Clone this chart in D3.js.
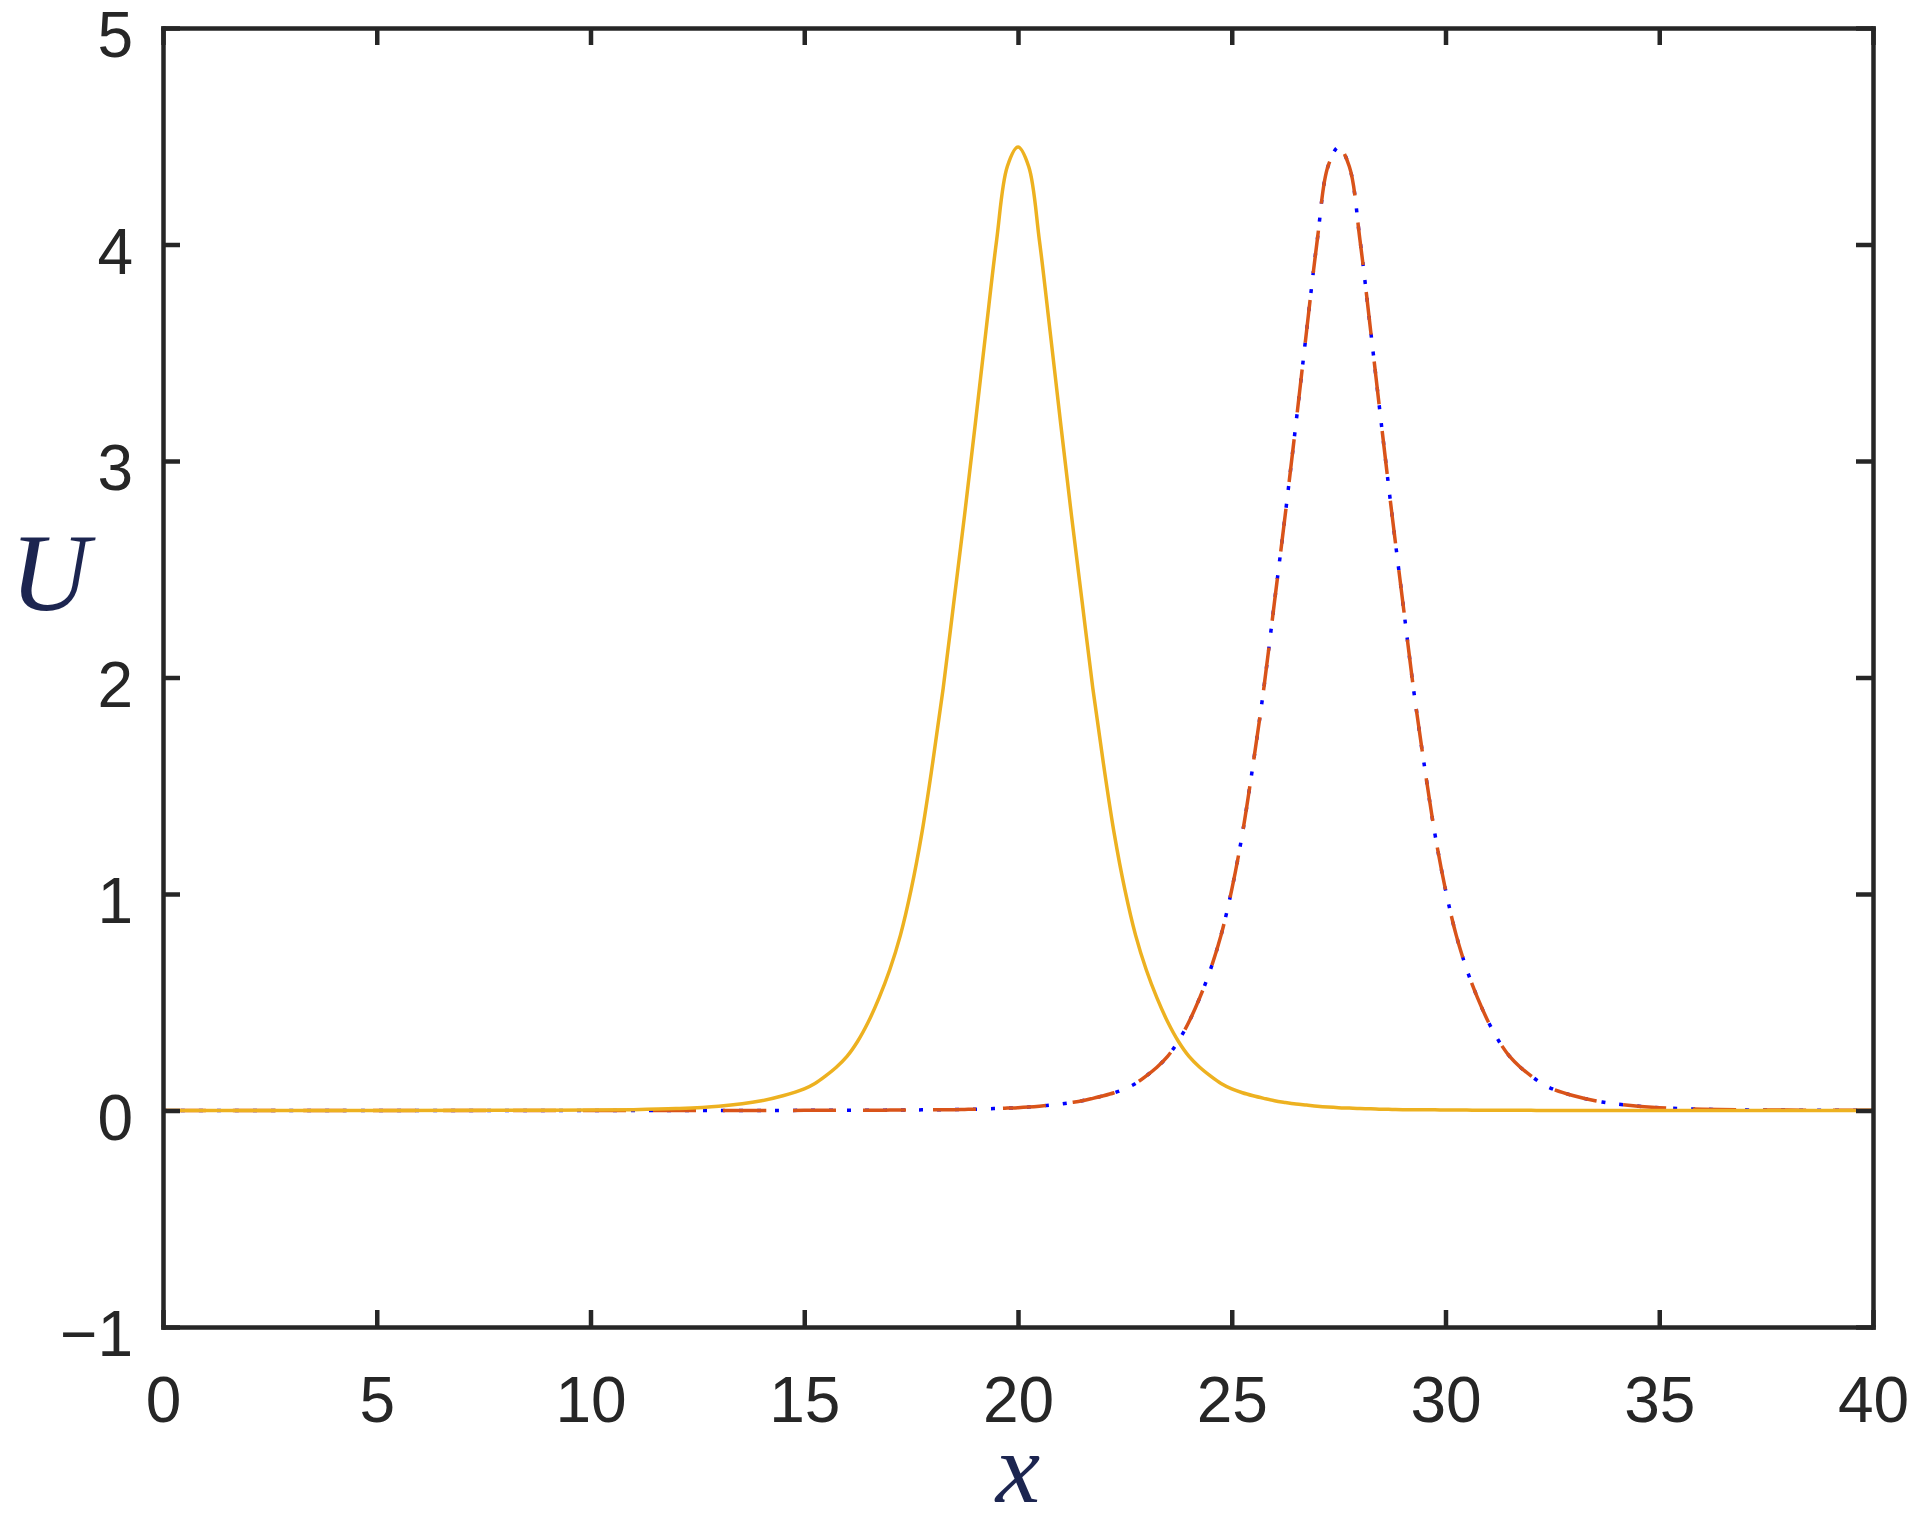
<!DOCTYPE html>
<html>
<head>
<meta charset="utf-8">
<script src="https://cdn.jsdelivr.net/npm/d3@7"></script>
<style>
  body { margin: 0; background: #fff; }
  svg { display: block; }
  .tick text { font-family: "Liberation Sans", Arial, sans-serif; font-size: 64px; fill: #262626; }
  .label { font-family: "Liberation Serif", "Times New Roman", serif; font-style: italic; fill: #1c2550; }
</style>
</head>
<body>
<div id="chart"></div>
<script>
// x grid shared by all curves (quarter steps where the pulses are)
var xs = [0, 4, 8, 9, 10, 11, 12, 13, 14, 14.5,
  15, 15.25, 15.5, 15.75, 16, 16.25, 16.5, 16.75, 17, 17.25, 17.5, 17.75,
  18, 18.25, 18.5, 18.75, 19, 19.25, 19.5, 19.75,
  20, 20.25, 20.5, 20.75, 21, 21.25, 21.5, 21.75, 22, 22.25, 22.5, 22.75,
  23, 23.25, 23.5, 23.75, 24, 24.25, 24.5, 24.75, 25, 25.25, 25.5, 25.75,
  26, 26.25, 26.5, 26.75, 27, 27.25, 27.5, 27.75, 28, 28.25, 28.5, 28.75,
  29, 29.25, 29.5, 29.75, 30, 30.25, 30.5, 30.75, 31, 31.25, 31.5, 31.75,
  32, 32.25, 32.5, 33, 33.5, 34, 35, 36, 37, 38, 39, 40];

// solid yellow curve, peak at x = 20
var uStart = [0, 0, 0.001, 0.001, 0.002, 0.004, 0.009, 0.02, 0.045, 0.068,
  0.10, 0.125, 0.16, 0.2, 0.25, 0.32, 0.41, 0.52, 0.65, 0.81, 1.02, 1.28,
  1.6, 1.95, 2.35, 2.75, 3.17, 3.6, 4.02, 4.36,
  4.45, 4.36, 4.02, 3.6, 3.17, 2.75, 2.35, 1.95, 1.6, 1.28, 1.02, 0.81,
  0.65, 0.52, 0.41, 0.32, 0.25, 0.2, 0.16, 0.125, 0.10, 0.082, 0.068, 0.056,
  0.045, 0.037, 0.03, 0.025, 0.02, 0.016, 0.013, 0.011, 0.009, 0.008, 0.006, 0.005,
  0.004, 0.004, 0.003, 0.003, 0.002, 0.002, 0.002, 0.001, 0.001, 0.001, 0.001, 0.001,
  0.001, 0, 0, 0, 0, 0, 0, 0, 0, 0, 0, 0];

// dashed red curve, peak at x = 27.5
var uNumeric = [0, 0, 0, 0, 0, 0, 0, 0, 0, 0,
  0.001, 0.001, 0.001, 0.001, 0.001, 0.001, 0.001, 0.001, 0.002, 0.002, 0.002, 0.003,
  0.003, 0.004, 0.004, 0.005, 0.006, 0.008, 0.009, 0.011,
  0.013, 0.016, 0.02, 0.025, 0.03, 0.037, 0.045, 0.056, 0.068, 0.082, 0.10, 0.125,
  0.16, 0.2, 0.25, 0.32, 0.41, 0.52, 0.65, 0.81, 1.02, 1.28, 1.6, 1.95,
  2.35, 2.75, 3.17, 3.6, 4.02, 4.36, 4.45, 4.36, 4.02, 3.6, 3.17, 2.75,
  2.35, 1.95, 1.6, 1.28, 1.02, 0.81, 0.65, 0.52, 0.41, 0.32, 0.25, 0.2,
  0.16, 0.125, 0.10, 0.068, 0.045, 0.03, 0.013, 0.006, 0.003, 0.002, 0.001, 0.001];

// dotted blue curve, lies on top of the red one
var uExact = [0, 0, 0, 0, 0, 0, 0, 0, 0, 0,
  0.001, 0.001, 0.001, 0.001, 0.001, 0.001, 0.001, 0.001, 0.002, 0.002, 0.002, 0.003,
  0.003, 0.004, 0.004, 0.005, 0.006, 0.008, 0.009, 0.011,
  0.013, 0.016, 0.02, 0.025, 0.03, 0.037, 0.045, 0.056, 0.068, 0.082, 0.10, 0.125,
  0.16, 0.2, 0.25, 0.32, 0.41, 0.52, 0.65, 0.81, 1.02, 1.28, 1.6, 1.95,
  2.35, 2.75, 3.17, 3.6, 4.02, 4.36, 4.45, 4.36, 4.02, 3.6, 3.17, 2.75,
  2.35, 1.95, 1.6, 1.28, 1.02, 0.81, 0.65, 0.52, 0.41, 0.32, 0.25, 0.2,
  0.16, 0.125, 0.10, 0.068, 0.045, 0.03, 0.013, 0.006, 0.003, 0.002, 0.001, 0.001];

var xTicks = [0, 5, 10, 15, 20, 25, 30, 35, 40];
var yTicks = [-1, 0, 1, 2, 3, 4, 5];

var width = 1922,
    height = 1526,
    margin = { top: 28, right: 49, bottom: 199, left: 163 };

var svg = d3.select("#chart").append("svg")
    .attr("width", width)
    .attr("height", height);

var x = d3.scaleLinear().domain([0, 40]).range([margin.left, width - margin.right]);
var y = d3.scaleLinear().domain([-1, 5]).range([height - margin.bottom, margin.top]);

var line = function(values) {
    return d3.line()
        .x(function(d, i) { return x(xs[i]); })
        .y(function(d) { return y(d); })
        .curve(d3.curveCatmullRom.alpha(0.5))(values);
};

// curves: blue dots first, red dashes over them, yellow on top
svg.append("path")
    .attr("d", line(uExact))
    .attr("fill", "none")
    .attr("stroke", "#0000ff")
    .attr("stroke-width", 3.5)
    .attr("stroke-dasharray", "4,14");

svg.append("path")
    .attr("d", line(uNumeric))
    .attr("fill", "none")
    .attr("stroke", "#d95319")
    .attr("stroke-width", 3.5)
    .attr("stroke-dasharray", "43,27");

svg.append("path")
    .attr("d", line(uStart))
    .attr("fill", "none")
    .attr("stroke", "#edb120")
    .attr("stroke-width", 3.5);

// box axes with inward ticks
var tickLen = 17;
var xBottom = svg.append("g")
    .attr("transform", "translate(0," + y(-1) + ")")
    .call(d3.axisBottom(x).tickValues(xTicks).tickSize(-tickLen).tickSizeOuter(0).tickPadding(50));
var xTop = svg.append("g")
    .attr("transform", "translate(0," + y(5) + ")")
    .call(d3.axisTop(x).tickValues(xTicks).tickSize(-tickLen).tickSizeOuter(0).tickFormat(""));
var yLeft = svg.append("g")
    .attr("transform", "translate(" + x(0) + ",0)")
    .call(d3.axisLeft(y).tickValues(yTicks).tickSize(-tickLen).tickSizeOuter(0).tickPadding(30)
        .tickFormat(function(d) { return d < 0 ? "\u2212" + Math.abs(d) : d; }));
var yRight = svg.append("g")
    .attr("transform", "translate(" + x(40) + ",0)")
    .call(d3.axisRight(y).tickValues(yTicks).tickSize(-tickLen).tickSizeOuter(0).tickFormat(""));

[xBottom, xTop, yLeft, yRight].forEach(function(g) {
    g.select(".domain").attr("stroke", "#262626").attr("stroke-width", 4.5).attr("stroke-linecap", "square");
    g.selectAll(".tick line").attr("stroke", "#262626").attr("stroke-width", 4.5);
});
yLeft.selectAll(".tick text").attr("dy", "0.45em");

// axis labels
svg.append("text")
    .attr("class", "label")
    .attr("x", (x(0) + x(40)) / 2)
    .attr("y", 1502)
    .attr("text-anchor", "middle")
    .attr("font-size", 100)
    .text("x");

svg.append("text")
    .attr("class", "label")
    .attr("x", 50)
    .attr("y", 610)
    .attr("text-anchor", "middle")
    .attr("font-size", 110)
    .text("U");
</script>
</body>
</html>
